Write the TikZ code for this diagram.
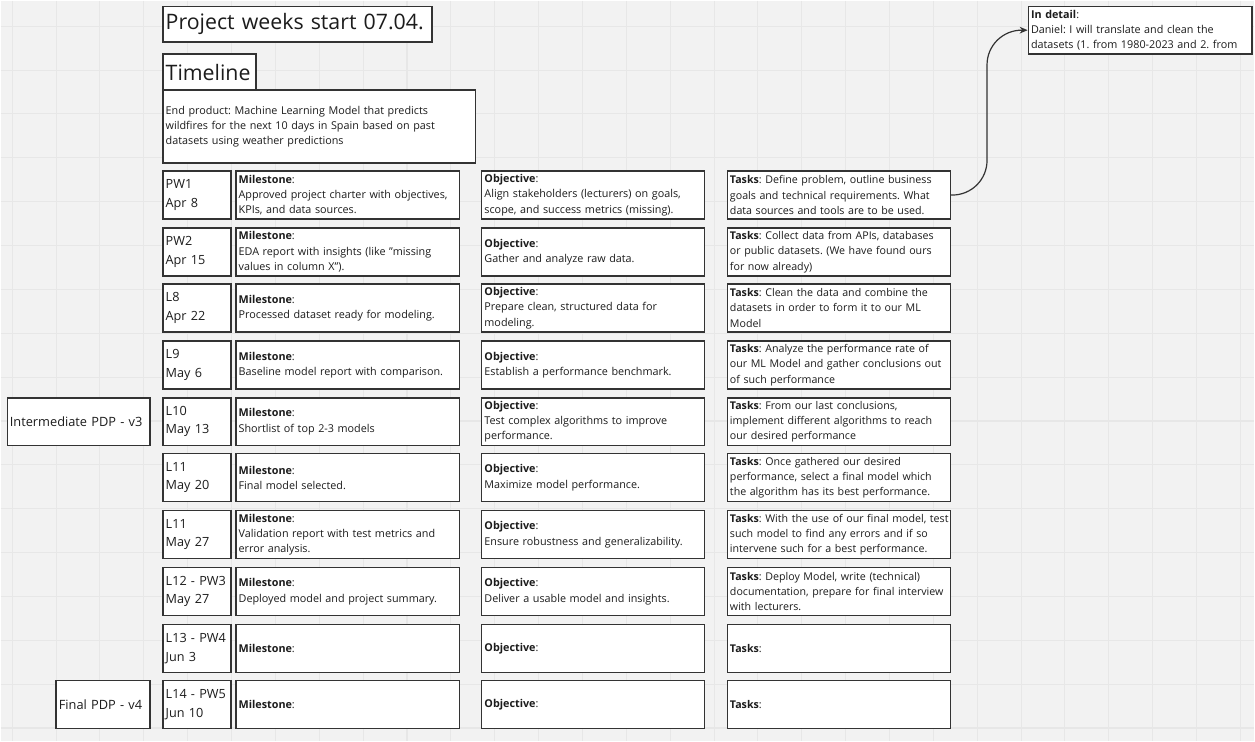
\documentclass[tikz,border=0pt]{standalone}
\usepackage{fontspec}
\setmainfont{Open Sans}
\usetikzlibrary{arrows.meta}
\definecolor{canvas}{RGB}{242,242,242}
\definecolor{gridgray}{RGB}{231,231,231}
\definecolor{boxline}{RGB}{51,51,51}
\definecolor{ink}{RGB}{28,28,28}

\begin{document}
\begin{tikzpicture}[x=0.75pt,y=-0.75pt]
\tikzset{
  box/.style={draw=boxline, line width=1pt, fill=white, anchor=north west,
    inner xsep=2pt, inner ysep=0pt, align=left, text=ink,
    execute at begin node={\frenchspacing\hyphenpenalty=10000},
    font=\fontsize{8.1}{11.5}\selectfont},
  datebox/.style={box, text width=47pt, minimum height=36pt, font=\fontsize{9.5}{13.6}\selectfont},
  milebox/.style={box, text width=164pt, minimum height=36pt},
  objbox/.style={box, text width=163.25pt, minimum height=36pt},
  taskbox/.style={box, inner xsep=1.8pt, text width=163.65pt, minimum height=36pt, font=\fontsize{8}{11.5}\selectfont},
  headbox/.style={box, minimum height=27pt, font=\fontsize{16}{19}\selectfont},
  pdpbox/.style={box, minimum height=36pt, font=\fontsize{9.6}{13.6}\selectfont},
  gridline/.style={gridgray, line width=0.8pt}
}
% canvas and grid
\fill[canvas] (0,0) rectangle (1255,741);
\foreach \gx in {0,...,28} \draw[gridline] ({11.7+43.9*\gx},0) -- ++(0,741);
\foreach \gy in {0,...,16} \draw[gridline] (0,{25.7+43.9*\gy}) -- ++(1255,0);
\useasboundingbox (0,0) rectangle (1255,741);

% header
\node[headbox, text width=197.75pt] (title) at (162,5) {Project weeks start 07.04.};
\node[headbox, text width=65.75pt] (timeline) at (162,53) {Timeline};
\node[box, text width=230.75pt, minimum height=54.75pt] (product) at (162,89)
  {End product: Machine Learning Model that predicts\\wildfires for the next 10 days in Spain based on past\\datasets using weather predictions};
\node[box, text width=164pt, minimum height=36pt] (detail) at (1028,5)
  {\textbf{In detail}:\\Daniel: I will translate and clean the\\\mbox{datasets (1. from 1980-2023 and 2. from}};

% side notes
\node[pdpbox, text width=103.25pt] (pdp3) at (6,397) {\mbox{Intermediate PDP - v3}};
\node[pdpbox, text width=66.5pt] (pdp4) at (55,680) {\mbox{Final PDP - v4}};

% row 1
\node[datebox] (d1) at (162,170) {PW1\\Apr 8};
\node[milebox] (m1) at (235,170) {\textbf{Milestone}:\\Approved project charter with objectives,\\KPIs, and data sources.};
\node[objbox] (o1) at (481,170) {\textbf{Objective}:\\Align stakeholders (lecturers) on goals,\\scope, and success metrics (missing).};
\node[taskbox] (t1) at (727,170) {\textbf{Tasks}: Define problem, outline business\\goals and technical requirements. What\\data sources and tools are to be used.};
% row 2
\node[datebox] (d2) at (162,227) {PW2\\Apr 15};
\node[milebox] (m2) at (235,227) {\textbf{Milestone}:\\EDA report with insights (like "missing\\values in column X").};
\node[objbox] (o2) at (481,227) {\textbf{Objective}:\\Gather and analyze raw data.};
\node[taskbox] (t2) at (727,227) {\textbf{Tasks}: Collect data from APIs, databases\\or public datasets. (We have found ours\\for now already)};
% row 3
\node[datebox] (d3) at (162,283) {L8\\Apr 22};
\node[milebox] (m3) at (235,283) {\textbf{Milestone}:\\Processed dataset ready for modeling.};
\node[objbox] (o3) at (481,283) {\textbf{Objective}:\\Prepare clean, structured data for\\modeling.};
\node[taskbox] (t3) at (727,283) {\textbf{Tasks}: Clean the data and combine the\\datasets in order to form it to our ML\\Model};
% row 4
\node[datebox] (d4) at (162,340) {L9\\May 6};
\node[milebox] (m4) at (235,340) {\textbf{Milestone}:\\Baseline model report with comparison.};
\node[objbox] (o4) at (481,340) {\textbf{Objective}:\\Establish a performance benchmark.};
\node[taskbox] (t4) at (727,340) {\textbf{Tasks}: Analyze the performance rate of\\our ML Model and gather conclusions out\\of such performance};
% row 5
\node[datebox] (d5) at (162,397) {L10\\May 13};
\node[milebox] (m5) at (235,397) {\textbf{Milestone}:\\Shortlist of top 2-3 models};
\node[objbox] (o5) at (481,397) {\textbf{Objective}:\\Test complex algorithms to improve\\performance.};
\node[taskbox] (t5) at (727,397) {\textbf{Tasks}: From our last conclusions,\\implement different algorithms to reach\\our desired performance};
% row 6
\node[datebox] (d6) at (162,453) {L11\\May 20};
\node[milebox] (m6) at (235,453) {\textbf{Milestone}:\\Final model selected.};
\node[objbox] (o6) at (481,453) {\textbf{Objective}:\\Maximize model performance.};
\node[taskbox] (t6) at (727,453) {\textbf{Tasks}: Once gathered our desired\\performance, select a final model which\\the algorithm has its best performance.};
% row 7
\node[datebox] (d7) at (162,510) {L11\\May 27};
\node[milebox] (m7) at (235,510) {\textbf{Milestone}:\\Validation report with test metrics and\\error analysis.};
\node[objbox] (o7) at (481,510) {\textbf{Objective}:\\Ensure robustness and generalizability.};
\node[taskbox] (t7) at (727,510) {\mbox{\textbf{Tasks}: With the use of our final model, test}\\such model to find any errors and if so\\intervene such for a best performance.};
% row 8
\node[datebox] (d8) at (162,567) {\mbox{L12 - PW3}\\May 27};
\node[milebox] (m8) at (235,567) {\textbf{Milestone}:\\Deployed model and project summary.};
\node[objbox] (o8) at (481,567) {\textbf{Objective}:\\Deliver a usable model and insights.};
\node[taskbox] (t8) at (727,567) {\textbf{Tasks}: Deploy Model, write (technical)\\\mbox{documentation, prepare for final interview}\\with lecturers.};
% row 9
\node[datebox] (d9) at (162,624) {\mbox{L13 - PW4}\\Jun 3};
\node[milebox] (m9) at (235,624) {\textbf{Milestone}:};
\node[objbox] (o9) at (481,624) {\textbf{Objective}:};
\node[taskbox] (t9) at (727,624) {\textbf{Tasks}:};
% row 10
\node[datebox] (d10) at (162,680) {\mbox{L14 - PW5}\\Jun 10};
\node[milebox] (m10) at (235,680) {\textbf{Milestone}:};
\node[objbox] (o10) at (481,680) {\textbf{Objective}:};
\node[taskbox] (t10) at (727,680) {\textbf{Tasks}:};

% link to detail note
\draw[boxline, line width=0.9pt, rounded corners=26pt, -{Stealth[length=6pt,width=5pt]}]
  (t1.east) -- ++(36,0) |- (detail.west);
\end{tikzpicture}
\end{document}
